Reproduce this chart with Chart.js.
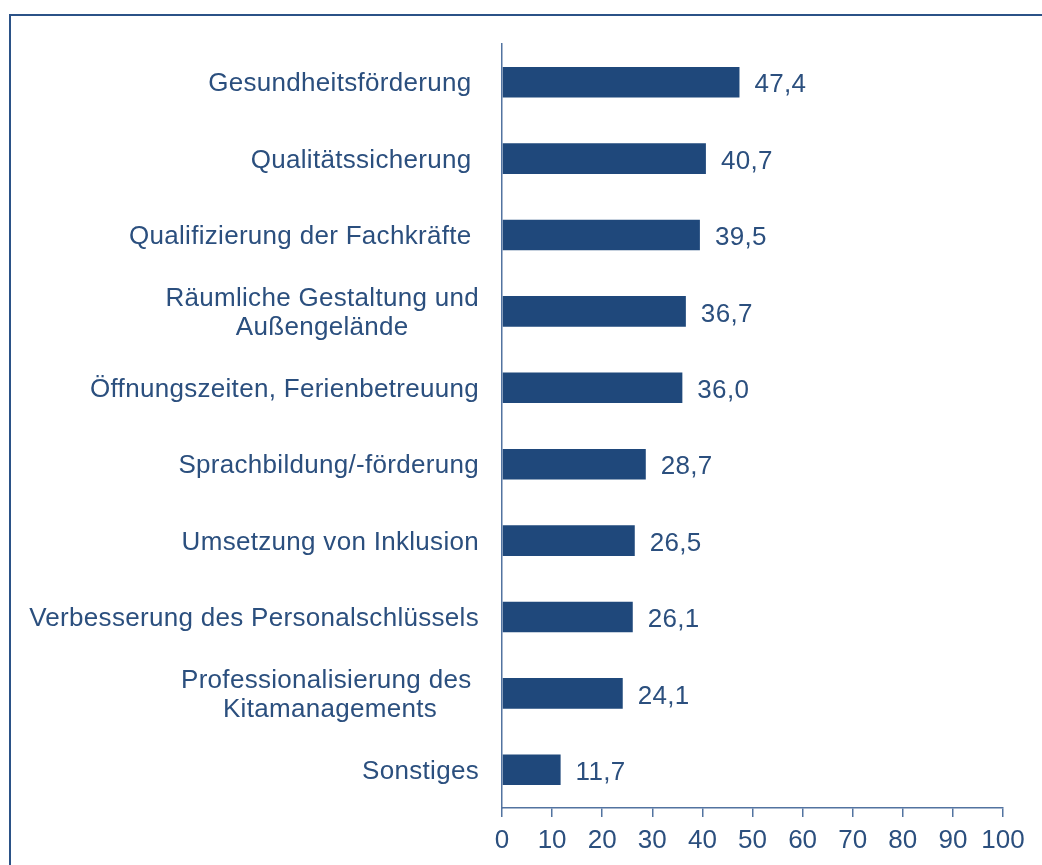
<!DOCTYPE html>
<html>
<head>
<meta charset="utf-8">
<script src="https://cdn.jsdelivr.net/npm/chart.js@4"></script>
<style>
  html, body { margin: 0; padding: 0; background: #ffffff; }
  #wrap { position: relative; width: 1042px; height: 865px; overflow: hidden; background: #ffffff; }
  #frame { position: absolute; left: 9px; top: 14px; right: -10px; bottom: -10px;
           border-top: 2px solid #2b5287; border-left: 2px solid #2b5287; }
  canvas { position: absolute; left: 0; top: 0; }
</style>
</head>
<body>
<div id="wrap">
  <div id="frame"></div>
  <canvas id="c" width="1042" height="865"></canvas>
</div>
<script>
const categories = [
  ["Gesundheitsförderung "],
  ["Qualitätssicherung "],
  ["Qualifizierung der Fachkräfte "],
  ["Räumliche Gestaltung und", "Außengelände"],
  ["Öffnungszeiten, Ferienbetreuung"],
  ["Sprachbildung/-förderung"],
  ["Umsetzung von Inklusion"],
  ["Verbesserung des Personalschlüssels"],
  ["Professionalisierung des ", "Kitamanagements"],
  ["Sonstiges"]
];
const values = [47.4, 40.7, 39.5, 36.7, 36.0, 28.7, 26.5, 26.1, 24.1, 11.7];
const xTicks = [0, 10, 20, 30, 40, 50, 60, 70, 80, 90, 100];

const TEXT = '#2b4f7e';
const BAR = '#1f487b';
const AXIS = '#5273a0';
const FONT = '"Liberation Sans", Arial, sans-serif';

const labelPlugin = {
  id: 'labels',
  afterDraw(chart) {
    const ctx = chart.ctx;
    const y = chart.scales.y;
    ctx.save();
    ctx.font = '26px ' + FONT;
    ctx.letterSpacing = '0.3px';
    ctx.fillStyle = TEXT;
    ctx.textBaseline = 'middle';
    ctx.textAlign = 'center';
    const rightEdge = 479;
    const lh = 29;
    categories.forEach((lines, i) => {
      const cy = y.getPixelForValue(i);
      let w = 0;
      lines.forEach(l => { w = Math.max(w, ctx.measureText(l).width); });
      const cx = rightEdge - w / 2;
      const y0 = cy - (lines.length - 1) * lh / 2;
      lines.forEach((l, k) => ctx.fillText(l, cx, y0 + k * lh + 2));
    });
    // value labels
    ctx.textAlign = 'left';
    const meta = chart.getDatasetMeta(0);
    meta.data.forEach((bar, i) => {
      ctx.fillText(values[i].toFixed(1).replace('.', ','), bar.x + 15, bar.y + 3);
    });
    ctx.restore();
  }
};

new Chart(document.getElementById('c'), {
  type: 'bar',
  data: {
    labels: categories.map(c => c.join(' ')),
    datasets: [{
      data: values,
      backgroundColor: BAR,
      borderWidth: 0,
      barPercentage: 0.4,
      categoryPercentage: 1.0
    }]
  },
  options: {
    indexAxis: 'y',
    responsive: false,
    animation: false,
    events: [],
    layout: { padding: { left: 0, right: 39, top: 44, bottom: 0 } },
    plugins: { legend: { display: false }, tooltip: { enabled: false } },
    scales: {
      x: {
        type: 'linear',
        min: 0, max: 100,
        afterBuildTicks(s) { s.ticks = xTicks.map(v => ({ value: v })); },
        afterFit(s) { s.height = 57; },
        grid: { drawOnChartArea: false, drawTicks: true, tickLength: 9, color: AXIS, lineWidth: 1.5 },
        border: { display: true, color: AXIS, width: 1.5 },
        ticks: { color: TEXT, font: { family: FONT, size: 26 }, padding: 8, maxRotation: 0, autoSkip: false }
      },
      y: {
        afterFit(s) { s.width = 502; },
        grid: { display: false, drawTicks: false },
        border: { display: true, color: AXIS, width: 1.5 },
        ticks: { display: false }
      }
    }
  },
  plugins: [labelPlugin]
});
</script>
</body>
</html>
